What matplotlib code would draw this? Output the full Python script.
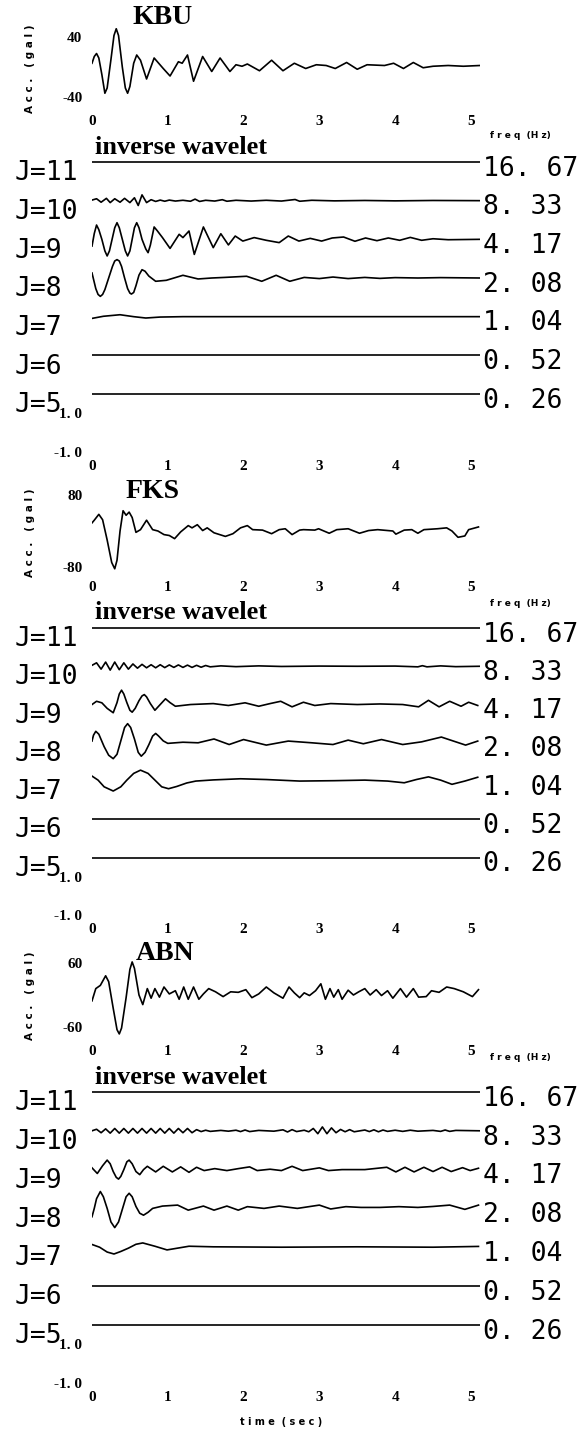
import numpy as np
import matplotlib.pyplot as plt
from matplotlib.transforms import blended_transform_factory

W, H = 585, 1430

# ---- shared labels ----
J_LABELS = ['J=11', 'J=10', 'J=9', 'J=8', 'J=7', 'J=6', 'J=5']
FREQ_LABELS = ['16. 67', '8. 33', '4. 17', '2. 08', '1. 04', '0. 52', '0. 26']
TIME_TICKS = [0, 1, 2, 3, 4, 5]
FLAT_T = [0.0, 5.12]
FLAT_V = [0.0, 0.0]

# ---- KBU ----
KBU_PEAK = 40
KBU_T = [0.00, 0.03, 0.06, 0.09, 0.13, 0.17, 0.20, 0.25, 0.29, 0.32, 0.35, 0.40, 0.44, 0.47,
         0.50, 0.55, 0.59, 0.64, 0.72, 0.82, 0.94, 1.03, 1.14, 1.19, 1.26, 1.34, 1.46, 1.58,
         1.69, 1.82, 1.90, 1.98, 2.05, 2.21, 2.37, 2.52, 2.67, 2.82, 2.96, 3.09, 3.21, 3.36,
         3.50, 3.63, 3.86, 3.98, 4.11, 4.24, 4.37, 4.50, 4.70, 4.90, 5.12]
KBU_ACC = [5, 14, 18, 12, -10, -35, -28, 10, 42, 51, 42, 0, -28, -35, -26, 5, 16, 9, -16, 12,
           -2, -12, 7, 5, 16, -19, 14, -6, 12, -6, 3, 1, 4, -5, 9, -5, 5, -2, 3, 2, -2, 6, -3,
           3, 2, 5, -2, 6, -1, 1, 2, 1, 2]
KBU_J10_T = [0.00, 0.06, 0.12, 0.19, 0.24, 0.30, 0.37, 0.43, 0.50, 0.56, 0.61, 0.66, 0.72, 0.78,
             0.84, 0.90, 0.96, 1.02, 1.10, 1.20, 1.30, 1.36, 1.42, 1.50, 1.62, 1.72, 1.78, 1.90,
             2.10, 2.30, 2.50, 2.68, 2.74, 2.90, 3.20, 3.60, 4.00, 4.50, 5.12]
KBU_J10 = [0.03, 0.10, -0.08, 0.12, -0.10, 0.10, -0.08, 0.12, -0.10, 0.15, -0.25, 0.30, -0.10,
           0.05, -0.04, 0.03, -0.03, 0.03, -0.02, 0.02, -0.03, 0.08, -0.04, 0.02, -0.02, 0.05,
           -0.03, 0.02, -0.02, 0.02, -0.02, 0.06, -0.03, 0.02, -0.01, 0.01, -0.01, 0.01, 0.0]
KBU_J9_T = [0.00, 0.03, 0.06, 0.09, 0.13, 0.17, 0.20, 0.23, 0.265, 0.30, 0.33, 0.36, 0.40, 0.44,
            0.47, 0.50, 0.53, 0.56, 0.59, 0.62, 0.66, 0.71, 0.74, 0.77, 0.82, 0.86, 0.93, 1.03,
            1.15, 1.20, 1.28, 1.35, 1.47, 1.60, 1.70, 1.80, 1.89, 1.99, 2.14, 2.30, 2.47, 2.59,
            2.73, 2.88, 3.03, 3.17, 3.32, 3.47, 3.61, 3.76, 3.91, 4.06, 4.20, 4.35, 4.50, 4.70,
            5.12]
KBU_J9 = [-0.35, 0.30, 0.74, 0.50, 0.0, -0.60, -0.86, -0.60, 0.0, 0.60, 0.86, 0.60, 0.0, -0.60,
          -0.86, -0.60, 0.0, 0.60, 0.86, 0.60, 0.0, -0.50, -0.69, -0.30, 0.64, 0.45, 0.09, -0.47,
          0.26, 0.09, 0.43, -0.78, 0.64, -0.43, 0.29, -0.29, 0.17, -0.09, 0.09, -0.05, -0.17,
          0.17, -0.09, 0.05, -0.09, 0.07, 0.12, -0.10, 0.07, -0.07, 0.07, -0.05, 0.10, -0.05,
          0.03, -0.02, 0.0]
KBU_J8_T = [0.00, 0.05, 0.08, 0.11, 0.14, 0.17, 0.22, 0.27, 0.30, 0.33, 0.36, 0.39, 0.43, 0.47,
            0.50, 0.52, 0.55, 0.58, 0.62, 0.66, 0.70, 0.75, 0.84, 0.98, 1.20, 1.40, 1.58, 1.75,
            2.04, 2.24, 2.43, 2.61, 2.80, 3.00, 3.18, 3.38, 3.60, 3.80, 4.00, 4.30, 4.60, 5.12]
KBU_J8 = [0.26, -0.55, -0.85, -0.95, -0.85, -0.60, 0.0, 0.60, 0.88, 0.95, 0.88, 0.60, 0.0,
          -0.55, -0.78, -0.83, -0.75, -0.40, 0.15, 0.43, 0.35, 0.10, -0.17, -0.12, 0.14, -0.05,
          0.0, 0.03, 0.09, -0.17, 0.14, -0.17, 0.03, -0.03, 0.05, -0.03, 0.03, -0.02, 0.02, 0.0,
          0.02, 0.0]
KBU_J7_T = [0.00, 0.15, 0.37, 0.55, 0.71, 0.90, 1.20, 5.12]
KBU_J7 = [-0.09, 0.02, 0.10, 0.0, -0.07, -0.02, 0.0, 0.0]

# ---- FKS ----
FKS_PEAK = 80
FKS_T = [0.00, 0.03, 0.09, 0.14, 0.20, 0.26, 0.30, 0.33, 0.37, 0.41, 0.45, 0.49, 0.53, 0.58,
         0.64, 0.72, 0.80, 0.87, 0.95, 1.02, 1.09, 1.17, 1.27, 1.32, 1.39, 1.46, 1.52, 1.61,
         1.76, 1.86, 1.96, 2.05, 2.12, 2.25, 2.37, 2.47, 2.55, 2.64, 2.74, 2.79, 2.94, 2.99,
         3.13, 3.23, 3.38, 3.53, 3.65, 3.77, 3.97, 4.01, 4.12, 4.22, 4.30, 4.38, 4.56, 4.68,
         4.75, 4.83, 4.92, 4.97, 5.10]
FKS_ACC = [18, 24, 37, 25, -20, -70, -84, -65, 0, 45, 35, 42, 30, -3, 3, 24, 3, 0, -8, -10, -17,
           -2, 12, 7, 14, 1, 7, -4, -12, -6, 7, 12, 3, 2, -6, 3, 5, -8, 2, 3, 2, 5, -5, 3, 5,
           -5, 1, 3, 0, -7, 2, 3, -5, 3, 5, 7, 0, -14, -11, 3, 9]
FKS_J10_T = [0.00, 0.06, 0.12, 0.18, 0.24, 0.30, 0.36, 0.42, 0.48, 0.54, 0.60, 0.66, 0.72, 0.78,
             0.84, 0.90, 0.96, 1.02, 1.08, 1.14, 1.20, 1.26, 1.32, 1.38, 1.44, 1.50, 1.56, 1.70,
             1.90, 2.20, 2.50, 3.00, 3.50, 4.00, 4.30, 4.36, 4.42, 4.60, 4.80, 5.12]
FKS_J10 = [0.05, 0.18, -0.15, 0.22, -0.20, 0.22, -0.18, 0.18, -0.15, 0.12, -0.10, 0.10, -0.08,
           0.08, -0.08, 0.08, -0.07, 0.07, -0.06, 0.07, -0.06, 0.06, -0.06, 0.05, -0.05, 0.04,
           -0.03, 0.02, -0.02, 0.02, -0.01, 0.01, 0.0, 0.01, -0.03, 0.03, -0.03, 0.02, -0.02, 0.0]
FKS_J9_T = [0.00, 0.06, 0.13, 0.20, 0.28, 0.33, 0.36, 0.39, 0.42, 0.46, 0.50, 0.53, 0.57, 0.62,
            0.66, 0.69, 0.72, 0.77, 0.83, 0.90, 0.97, 1.03, 1.10, 1.30, 1.60, 1.80, 2.02, 2.20,
            2.35, 2.49, 2.64, 2.79, 2.94, 3.15, 3.50, 3.80, 4.10, 4.31, 4.44, 4.58, 4.72, 4.87,
            4.97, 5.09]
FKS_J9 = [0.0, 0.17, 0.09, -0.20, -0.43, 0.10, 0.55, 0.75, 0.55, 0.10, -0.30, -0.40, -0.20, 0.20,
          0.45, 0.52, 0.40, 0.05, -0.30, 0.0, 0.30, 0.10, -0.09, 0.0, 0.05, -0.05, 0.09, -0.09,
          0.05, 0.17, -0.12, 0.12, -0.05, 0.05, 0.0, 0.03, 0.0, -0.12, 0.22, -0.12, 0.17, -0.09,
          0.12, -0.05]
FKS_J8_T = [0.00, 0.02, 0.05, 0.09, 0.16, 0.22, 0.28, 0.33, 0.38, 0.43, 0.47, 0.51, 0.56, 0.61,
            0.65, 0.70, 0.75, 0.80, 0.84, 0.88, 0.94, 1.00, 1.20, 1.40, 1.61, 1.81, 2.00, 2.30,
            2.59, 2.90, 3.18, 3.38, 3.58, 3.82, 4.10, 4.35, 4.61, 4.93, 5.09]
FKS_J8 = [0.09, 0.40, 0.60, 0.45, -0.20, -0.65, -0.83, -0.60, 0.10, 0.80, 1.00, 0.80, 0.20, -0.50,
          -0.70, -0.50, -0.10, 0.35, 0.49, 0.35, 0.10, -0.03, 0.03, 0.0, 0.20, -0.09, 0.17,
          -0.12, 0.09, 0.0, -0.09, 0.14, -0.05, 0.17, -0.09, 0.05, 0.30, -0.12, 0.09]
FKS_J7_T = [0.00, 0.08, 0.16, 0.28, 0.38, 0.46, 0.55, 0.64, 0.74, 0.83, 0.92, 1.01, 1.12, 1.25,
            1.37, 1.60, 1.96, 2.30, 2.74, 3.20, 3.60, 3.90, 4.12, 4.28, 4.44, 4.60, 4.75, 4.92,
            5.09]
FKS_J7 = [0.26, 0.05, -0.30, -0.52, -0.30, 0.05, 0.40, 0.57, 0.40, 0.05, -0.30, -0.40, -0.28,
          -0.10, 0.0, 0.06, 0.12, 0.08, 0.0, 0.02, 0.05, 0.0, -0.09, 0.08, 0.22, 0.05, -0.17, 0.0,
          0.20]

# ---- ABN ----
ABN_PEAK = 60
ABN_T = [0.00, 0.05, 0.11, 0.18, 0.22, 0.28, 0.33, 0.36, 0.39, 0.45, 0.50, 0.53, 0.56, 0.62,
         0.67, 0.73, 0.78, 0.83, 0.89, 0.95, 1.02, 1.10, 1.15, 1.21, 1.27, 1.34, 1.41, 1.47,
         1.54, 1.63, 1.73, 1.83, 1.93, 2.03, 2.11, 2.20, 2.30, 2.40, 2.52, 2.60, 2.67, 2.74,
         2.80, 2.87, 2.95, 3.02, 3.08, 3.14, 3.19, 3.25, 3.30, 3.38, 3.45, 3.52, 3.60, 3.67,
         3.75, 3.82, 3.90, 3.97, 4.07, 4.15, 4.24, 4.31, 4.41, 4.48, 4.58, 4.68, 4.78, 4.90,
         5.02, 5.10]
ABN_ACC = [-11, 12, 18, 36, 25, -25, -65, -73, -62, -5, 48, 62, 50, 0, -18, 12, -6, 12, -4, 15,
           2, 8, -8, 15, -8, 15, -8, 2, 12, 6, -3, 6, 5, 10, -5, 2, 15, 4, -6, 15, 4, -5, 4,
           -1, 8, 21, -8, 12, -4, 10, -8, 9, 0, 6, 12, 0, 10, -1, 8, -6, 12, -4, 12, -4, -3, 8,
           5, 15, 12, 6, -3, 10]
ABN_J10_T = [0.00, 0.06, 0.12, 0.18, 0.24, 0.30, 0.36, 0.42, 0.48, 0.54, 0.60, 0.66, 0.72, 0.78,
             0.84, 0.90, 0.96, 1.02, 1.08, 1.14, 1.20, 1.26, 1.32, 1.38, 1.44, 1.50, 1.56, 1.70,
             1.80, 1.90, 1.96, 2.02, 2.08, 2.20, 2.40, 2.52, 2.58, 2.64, 2.70, 2.80, 2.86, 2.92,
             2.98, 3.04, 3.10, 3.16, 3.22, 3.28, 3.34, 3.40, 3.46, 3.60, 3.66, 3.72, 3.78, 3.84,
             3.90, 4.00, 4.10, 4.20, 4.30, 4.50, 4.60, 4.66, 4.72, 4.80, 5.12]
ABN_J10 = [0.0, 0.08, -0.10, 0.10, -0.12, 0.12, -0.12, 0.12, -0.12, 0.12, -0.12, 0.12, -0.12,
           0.12, -0.12, 0.12, -0.12, 0.12, -0.12, 0.12, -0.10, 0.12, -0.10, 0.06, -0.04, 0.03,
           -0.03, 0.02, -0.02, 0.03, -0.04, 0.04, -0.04, 0.02, -0.02, 0.05, -0.06, 0.06, -0.04,
           0.03, -0.05, 0.12, -0.15, 0.20, -0.15, 0.15, -0.10, 0.07, -0.05, 0.06, -0.05, 0.04,
           -0.04, 0.05, -0.05, 0.04, -0.03, 0.03, -0.03, 0.03, -0.02, 0.02, -0.03, 0.04, -0.03,
           0.02, 0.0]
ABN_J9_T = [0.00, 0.07, 0.14, 0.20, 0.24, 0.28, 0.32, 0.35, 0.38, 0.42, 0.46, 0.49, 0.53, 0.58,
            0.63, 0.68, 0.73, 0.84, 0.94, 1.06, 1.17, 1.28, 1.38, 1.48, 1.62, 1.78, 1.93, 2.08,
            2.18, 2.35, 2.50, 2.64, 2.78, 3.00, 3.12, 3.30, 3.60, 3.89, 4.01, 4.13, 4.25, 4.38,
            4.50, 4.62, 4.74, 4.89, 4.99, 5.10]
ABN_J9 = [0.09, -0.20, 0.20, 0.49, 0.30, -0.10, -0.40, -0.49, -0.35, 0.0, 0.40, 0.49, 0.30,
          -0.10, -0.26, 0.0, 0.17, -0.12, 0.17, -0.12, 0.14, -0.14, 0.12, -0.05, 0.05, -0.05,
          0.05, 0.14, -0.05, 0.02, -0.05, 0.17, -0.05, 0.09, -0.05, 0.0, 0.0, 0.12, -0.12, 0.12,
          -0.12, 0.12, -0.10, 0.12, -0.10, 0.10, -0.05, 0.07]
ABN_J8_T = [0.00, 0.03, 0.06, 0.11, 0.15, 0.20, 0.25, 0.30, 0.35, 0.40, 0.45, 0.49, 0.53, 0.58,
            0.63, 0.68, 0.74, 0.80, 0.93, 1.13, 1.27, 1.47, 1.61, 1.78, 1.93, 2.05, 2.27, 2.47,
            2.71, 3.00, 3.15, 3.35, 3.55, 3.80, 4.05, 4.30, 4.50, 4.72, 4.92, 5.10]
ABN_J8 = [-0.43, 0.0, 0.50, 0.87, 0.60, 0.0, -0.70, -0.99, -0.70, -0.05, 0.60, 0.78, 0.60, 0.10,
          -0.25, -0.35, -0.20, 0.0, 0.12, 0.17, -0.09, 0.12, -0.09, 0.12, -0.09, 0.09, 0.0, 0.12,
          0.0, 0.17, -0.03, 0.09, 0.05, 0.05, 0.09, 0.05, 0.10, 0.17, -0.05, 0.17]
ABN_J7_T = [0.00, 0.10, 0.20, 0.29, 0.38, 0.48, 0.58, 0.67, 0.83, 0.99, 1.28, 1.60, 2.50, 3.50,
            4.50, 5.10]
ABN_J7 = [0.14, 0.0, -0.25, -0.35, -0.22, -0.05, 0.15, 0.22, 0.05, -0.14, 0.05, 0.02, 0.0, 0.02,
          0.0, 0.04]

# layout of the three stations (pixel rows measured on the page)
PANELS = [
    dict(name='KBU', title=(163, 18), peak=KBU_PEAK, t=KBU_T, acc=KBU_ACC,
         rows=[(FLAT_T, FLAT_V), (KBU_J10_T, KBU_J10), (KBU_J9_T, KBU_J9), (KBU_J8_T, KBU_J8),
               (KBU_J7_T, KBU_J7), (FLAT_T, FLAT_V), (FLAT_T, FLAT_V)],
         acc_lab=(37, 97), acc_tick=122, freq_y=135, inv_y=147, l11=162, m1=452, acc_mid=69),
    dict(name='FKS', title=(153, 492), peak=FKS_PEAK, t=FKS_T, acc=FKS_ACC,
         rows=[(FLAT_T, FLAT_V), (FKS_J10_T, FKS_J10), (FKS_J9_T, FKS_J9), (FKS_J8_T, FKS_J8),
               (FKS_J7_T, FKS_J7), (FLAT_T, FLAT_V), (FLAT_T, FLAT_V)],
         acc_lab=(495, 567), acc_tick=588, freq_y=603, inv_y=613, l11=628, m1=915, acc_mid=533),
    dict(name='ABN', title=(165, 953), peak=ABN_PEAK, t=ABN_T, acc=ABN_ACC,
         rows=[(FLAT_T, FLAT_V), (ABN_J10_T, ABN_J10), (ABN_J9_T, ABN_J9), (ABN_J8_T, ABN_J8),
               (ABN_J7_T, ABN_J7), (FLAT_T, FLAT_V), (FLAT_T, FLAT_V)],
         acc_lab=(963, 1027), acc_tick=1052, freq_y=1057, inv_y=1077, l11=1092, m1=1383, acc_mid=996),
]

X0, X1 = 92, 480      # pixel columns of t=0 and t=5.12
TMAX = 5.12
LW = 1.2
SERIF = 'Liberation Serif'
MONO = 'DejaVu Sans Mono'


def box(top, bottom):
    return [X0 / W, 1 - bottom / H, (X1 - X0) / W, (bottom - top) / H]


def bare(ax):
    ax.set_facecolor('none')
    for s in ax.spines.values():
        s.set_visible(False)
    ax.set_xlim(0, TMAX)
    ax.set_xticks(TIME_TICKS)
    ax.set_xticklabels([str(v) for v in TIME_TICKS], fontfamily=SERIF,
                       fontweight='bold', fontsize=11)
    ax.tick_params(length=0)


fig = plt.figure(figsize=(W / 100, H / 100), dpi=100)

for p in PANELS:
    # acceleration record
    T = p['peak']
    ptop, pbot = p['acc_lab']
    ax_top, ax_bot = ptop - 14, p['acc_tick'] - 9
    gpp = 2 * T / (pbot - ptop)
    ax = fig.add_axes(box(ax_top, ax_bot))
    bare(ax)
    ax.set_ylim(-T - (ax_bot - pbot) * gpp, T + (ptop - ax_top) * gpp)
    ax.plot(p['t'], p['acc'], color='black', lw=LW)
    ax.set_yticks([-T, T])
    ax.set_yticklabels(['-%d' % T, '%d' % T], fontfamily=SERIF, fontweight='bold', fontsize=11)
    ax.tick_params(axis='y', pad=7)
    ax.tick_params(axis='x', pad=1.5)

    fig.text(p['title'][0] / W, 1 - p['title'][1] / H, p['name'], fontfamily=SERIF,
             fontweight='bold', fontsize=20, ha='center', va='center')
    fig.text(30 / W, 1 - p['acc_mid'] / H, 'A c c .   ( g a l )', rotation=90,
             fontsize=7.5, fontweight='bold', ha='center', va='center')
    fig.text(490 / W, 1 - p['freq_y'] / H, 'f r e q  (H z)', fontsize=6.5,
             fontweight='bold', ha='left', va='center')
    fig.text(95 / W, 1 - p['inv_y'] / H, 'inverse wavelet', fontfamily=SERIF,
             fontweight='bold', fontsize=19, ha='left', va='center')

    # inverse wavelet components, one row per level, offset by 2
    m1, l11 = p['m1'], p['l11']
    ppu = (m1 - l11) / 15
    wx = fig.add_axes(box(m1 - 16 * ppu, m1))
    bare(wx)
    wx.set_ylim(-1, 15)
    wx.set_yticks([-1, 1])
    wx.set_yticklabels(['-1. 0', '1. 0'], fontfamily=SERIF, fontweight='bold', fontsize=11)
    wx.tick_params(axis='y', pad=7)
    wx.tick_params(axis='x', pad=5.5)
    trans = blended_transform_factory(fig.transFigure, wx.transData)
    for k, (tt, vv) in enumerate(p['rows']):
        off = 14 - 2 * k
        wx.plot(tt, np.array(vv) + off, color='black', lw=LW)
        wx.text(15 / W, off - 0.58, J_LABELS[k], transform=trans, fontfamily=MONO,
                fontsize=19, ha='left', va='center')
        wx.text(483 / W, off - 0.35, FREQ_LABELS[k], transform=trans, fontfamily=MONO,
                fontsize=19, ha='left', va='center')

fig.text(281 / W, 1 - 1422 / H, 't i m e  ( s e c )', fontsize=7, fontweight='bold',
         ha='center', va='center')

fig.savefig('out.png', dpi=100)
